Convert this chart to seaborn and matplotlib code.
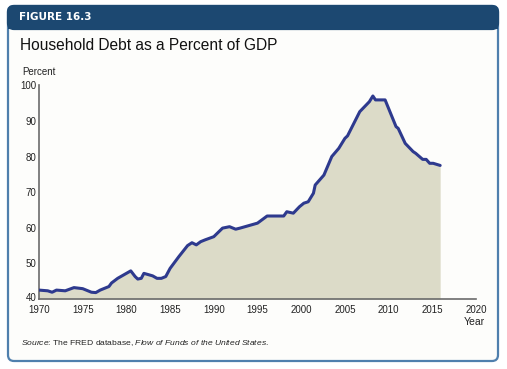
import numpy as np
import seaborn as sns
import matplotlib.pyplot as plt
from matplotlib.patches import FancyBboxPatch, Rectangle
from matplotlib.transforms import IdentityTransform, ScaledTranslation

# household debt as percent of GDP
years = [1970, 1971, 1971.5, 1972, 1973, 1974, 1975, 1976, 1976.5, 1977,
         1978, 1978.3, 1979, 1980, 1980.5, 1981, 1981.3, 1981.7, 1982, 1983,
         1983.5, 1984, 1984.5, 1985, 1986, 1987, 1987.5, 1988, 1988.5, 1989,
         1990, 1991, 1991.8, 1992.5, 1993, 1994, 1995, 1996.1, 1998, 1998.35,
         1999.1, 1999.8, 2000.3, 2000.8, 2001.4, 2001.6, 2002.6, 2003.5, 2004.3,
         2005, 2005.3, 2006.7, 2007.8, 2008.2, 2008.5, 2009.6, 2010.85, 2011.1,
         2011.9, 2012.8, 2013.1, 2013.9, 2014.3, 2014.7, 2015.1, 2015.9]
debt = [42.5, 42.3, 41.9, 42.5, 42.3, 43.2, 42.9, 41.9, 41.8, 42.5,
        43.5, 44.5, 45.8, 47.2, 47.9, 46.3, 45.6, 45.8, 47.2, 46.5,
        45.8, 45.8, 46.3, 48.6, 51.9, 55.0, 55.8, 55.2, 56.1, 56.6,
        57.5, 59.9, 60.3, 59.6, 59.9, 60.6, 61.3, 63.3, 63.3, 64.5,
        64.1, 65.9, 66.9, 67.3, 69.7, 72.0, 74.8, 80.0, 82.3,
        85.1, 85.8, 92.6, 95.4, 97.0, 95.9, 95.9, 88.4, 87.9,
        83.7, 81.4, 80.9, 79.2, 79.2, 78.1, 78.1, 77.5]
x_ticks = list(range(1970, 2021, 5))
y_ticks = list(range(40, 101, 10))

sns.set_style("white")
plt.rcParams['font.family'] = ['Liberation Sans', 'DejaVu Sans']
plt.rcParams['mathtext.fontset'] = 'custom'
plt.rcParams['mathtext.rm'] = 'Liberation Sans'
plt.rcParams['mathtext.it'] = 'Liberation Sans:italic'

W, H = 507, 369
fig = plt.figure(figsize=(W / 100, H / 100), dpi=100)
fig.patch.set_facecolor('white')

# outer frame and header band (pixel coords, origin bottom-left)
frame = FancyBboxPatch((8, H - 361), 490, 355, boxstyle="round,pad=0,rounding_size=6",
                       transform=IdentityTransform(), facecolor='#fdfdfb',
                       edgecolor='#4f7fad', linewidth=1.6, zorder=-2)
head = FancyBboxPatch((8, H - 29), 490, 23, boxstyle="round,pad=0,rounding_size=6",
                      transform=IdentityTransform(), facecolor='#1c4871',
                      edgecolor='#1c4871', linewidth=1.6, zorder=-1)
head_fix = Rectangle((8, H - 29), 490, 10, transform=IdentityTransform(),
                     facecolor='#1c4871', edgecolor='none', zorder=-1)
fig.patches.extend([frame, head, head_fix])

fig.text(19 / W, 1 - 17 / H, "FIGURE 16.3", color='white', fontsize=7.5,
         fontweight='bold', family='DejaVu Sans', va='center', ha='left')
fig.text(20 / W, 1 - 46 / H, "Household Debt as a Percent of GDP", color='#111111',
         fontsize=11.2, va='center', ha='left')
fig.text(22 / W, 1 - 72 / H, "Percent", color='#222222', fontsize=7,
         va='center', ha='left')
fig.text(485 / W, 1 - 322 / H, "Year", color='#222222', fontsize=7.5,
         va='center', ha='right')
fig.text(21 / W, 1 - 343 / H,
         r"$\it{Source}$: The FRED database, $\it{Flow\ of\ Funds\ of\ the\ United\ States}$.",
         color='#222222', fontsize=6.1, va='center', ha='left')

ax = fig.add_axes([39 / W, 70 / H, 437 / W, (299 - 85.3) / H])
ax.set_zorder(2)
ax.set_facecolor('none')
ax.fill_between(years, debt, 40, color='#dcdbc8', linewidth=0, zorder=1)
sns.lineplot(x=years, y=debt, ax=ax, color='#2e3a8e', linewidth=2.2, zorder=3)
ax.set_xlim(1970, 2020)
ax.set_ylim(40, 100)
ax.set_xticks(x_ticks)
ax.set_yticks(y_ticks)
ax.set_xlabel("")
ax.set_ylabel("")
for side in ['top', 'right']:
    ax.spines[side].set_visible(False)
for side in ['left', 'bottom']:
    ax.spines[side].set_color('#6b6b6b')
    ax.spines[side].set_linewidth(1.2)
ax.tick_params(axis='both', direction='in', length=5, width=1, color='#6b6b6b',
               labelsize=7, labelcolor='#222222', pad=2)
ax.tick_params(axis='x', pad=4)
# nudge the bottom "40" label up a touch so it clears "1970"
lab40 = ax.get_yticklabels()[0]
lab40.set_transform(lab40.get_transform() + ScaledTranslation(0, 1.5 / 72, fig.dpi_scale_trans))

fig.savefig("out.png", dpi=100, facecolor='white')
